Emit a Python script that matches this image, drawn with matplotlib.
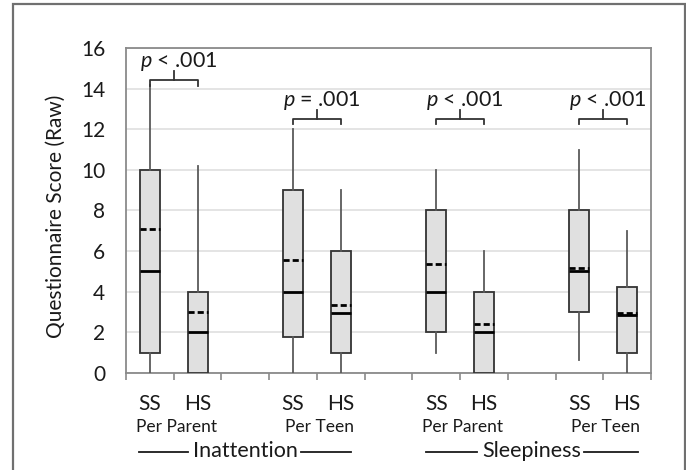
import matplotlib
matplotlib.use('Agg')
import matplotlib.pyplot as plt
import matplotlib.transforms as mtransforms
from matplotlib.lines import Line2D
from matplotlib.patches import Rectangle
import numpy as np

plt.rcParams['font.family'] = ['Lato', 'DejaVu Sans']
plt.rcParams['mathtext.fontset'] = 'custom'
plt.rcParams['mathtext.it'] = 'Lato:italic'
plt.rcParams['mathtext.rm'] = 'Lato'

# ---------------- data ----------------
group_labels = ["SS", "HS", "SS", "HS", "SS", "HS", "SS", "HS"]
rater_labels = ["Per Parent", "Per Teen", "Per Parent", "Per Teen"]
measure_labels = ["Inattention", "Sleepiness"]

whisker_low = [0.0, 0.0, 0.0, 0.0, 1.0, 0.0, 0.65, 0.0]
q1 = [1.0, 0.0, 1.75, 1.0, 2.0, 0.0, 3.0, 1.0]
median = [5.0, 2.0, 4.0, 2.95, 4.0, 2.0, 5.0, 2.85]
mean = [7.1, 3.0, 5.55, 3.36, 5.38, 2.42, 5.17, 2.96]
q3 = [10.0, 4.0, 9.0, 6.0, 8.0, 4.0, 8.0, 4.25]
whisker_high = [14.2, 10.2, 12.0, 9.0, 10.0, 6.0, 11.0, 7.0]

p_labels = ["$p$ < .001", "$p$ = .001", "$p$ < .001", "$p$ < .001"]
bracket_heights = [14.4, 12.5, 12.5, 12.5]

yticks = [0, 2, 4, 6, 8, 10, 12, 14, 16]
ylabel = "Questionnaire Score (Raw)"

# ---------------- figure ----------------
W, H = 686, 470
fig = plt.figure(figsize=(W / 100, H / 100), dpi=100)
fig.patch.set_facecolor('white')

# outer frame
fig.patches.append(Rectangle((13 / W, -0.1), (684.5 - 13) / W, (1 - 4 / H) + 0.1,
                             transform=fig.transFigure, fill=False,
                             edgecolor='#707070', linewidth=1.6, zorder=0))

ax = fig.add_axes([126 / W, 1 - 373 / H, (651 - 126) / W, (373 - 48) / H])

positions = [3 * (i // 2) + (i % 2) for i in range(len(group_labels))]

stats = []
for i in range(len(group_labels)):
    stats.append(dict(whislo=whisker_low[i], q1=q1[i], med=median[i], mean=mean[i],
                      q3=q3[i], whishi=whisker_high[i], fliers=[]))

ax.bxp(stats, positions=positions, widths=0.42, patch_artist=True,
       showmeans=True, meanline=True, showcaps=False, showfliers=False,
       boxprops=dict(facecolor='#e0e0e0', edgecolor='#333333', linewidth=1.3),
       whiskerprops=dict(color='#5a5a5a', linewidth=1.3),
       medianprops=dict(color='black', linewidth=2.0),
       meanprops=dict(color='black', linewidth=2.0, linestyle=(0, (2.2, 1.1))),
       zorder=3)

TXT = '#1a1a1a'
ax.set_xlim(-0.5, 10.5)
ax.set_ylim(0, 16)
ax.set_yticks(yticks)
ax.set_yticklabels([str(v) for v in yticks], fontsize=15)
ax.tick_params(axis='y', length=0, pad=15, colors=TXT)
ax.set_xticks(np.arange(-0.5, 11, 1))
ax.set_xticklabels([])
ax.tick_params(axis='x', length=5, width=1.2, color='#8a8a8a', direction='out')
ax.yaxis.grid(True, color='#e4e4e4', linewidth=1.4, zorder=0)
ax.set_axisbelow(True)
for s in ax.spines.values():
    s.set_color('#8a8a8a')
    s.set_linewidth(1.3)

ax.set_ylabel(ylabel, fontsize=15, color=TXT)
ax.yaxis.set_label_coords((66 - 126) / 525, (373 - 216) / 325)

# significance brackets
for k in range(len(p_labels)):
    x1, x2 = positions[2 * k], positions[2 * k + 1]
    yb = bracket_heights[k]
    xs = [x1, x1, x2, x2]
    ys = [yb - 0.25, yb, yb, yb - 0.25]
    ax.plot(xs, ys, color='#333333', lw=1.3, clip_on=False, zorder=4)
    xm = (x1 + x2) / 2
    ax.plot([xm, xm], [yb, yb + 0.45], color='#333333', lw=1.3, clip_on=False, zorder=4)
    ax.text(xm + 0.1, yb + 0.65, p_labels[k], ha='center', va='baseline',
            fontsize=15.5, color=TXT, zorder=5)

# bottom labels
trans = mtransforms.blended_transform_factory(ax.transData, fig.transFigure)
for i, lab in enumerate(group_labels):
    ax.text(positions[i], 1 - 410 / H, lab, transform=trans, ha='center',
            va='baseline', fontsize=15, color=TXT)
for k, lab in enumerate(rater_labels):
    xm = (positions[2 * k] + positions[2 * k + 1]) / 2 + 0.05
    ax.text(xm, 1 - 432 / H, lab, transform=trans, ha='center',
            va='baseline', fontsize=12.5, color=TXT)

fig.canvas.draw()
renderer = fig.canvas.get_renderer()
for m, lab in enumerate(measure_labels):
    xa = positions[4 * m]
    xb = positions[4 * m + 3]
    xc = (xa + xb) / 2
    t = ax.text(xc, 1 - 457 / H, lab, transform=trans, ha='center',
                va='baseline', fontsize=15.5, color=TXT)
    bb = t.get_window_extent(renderer)
    cpx = ax.transData.transform((xc, 0))[0]
    yline = 1 - 451.5 / H
    for (a, b) in [(cpx - 106, bb.x0 - 5), (bb.x1 + 3, cpx + 106)]:
        fig.add_artist(Line2D([a / W, b / W], [yline, yline], transform=fig.transFigure,
                              color=TXT, lw=1.3))

fig.savefig('out.png', dpi=100)
